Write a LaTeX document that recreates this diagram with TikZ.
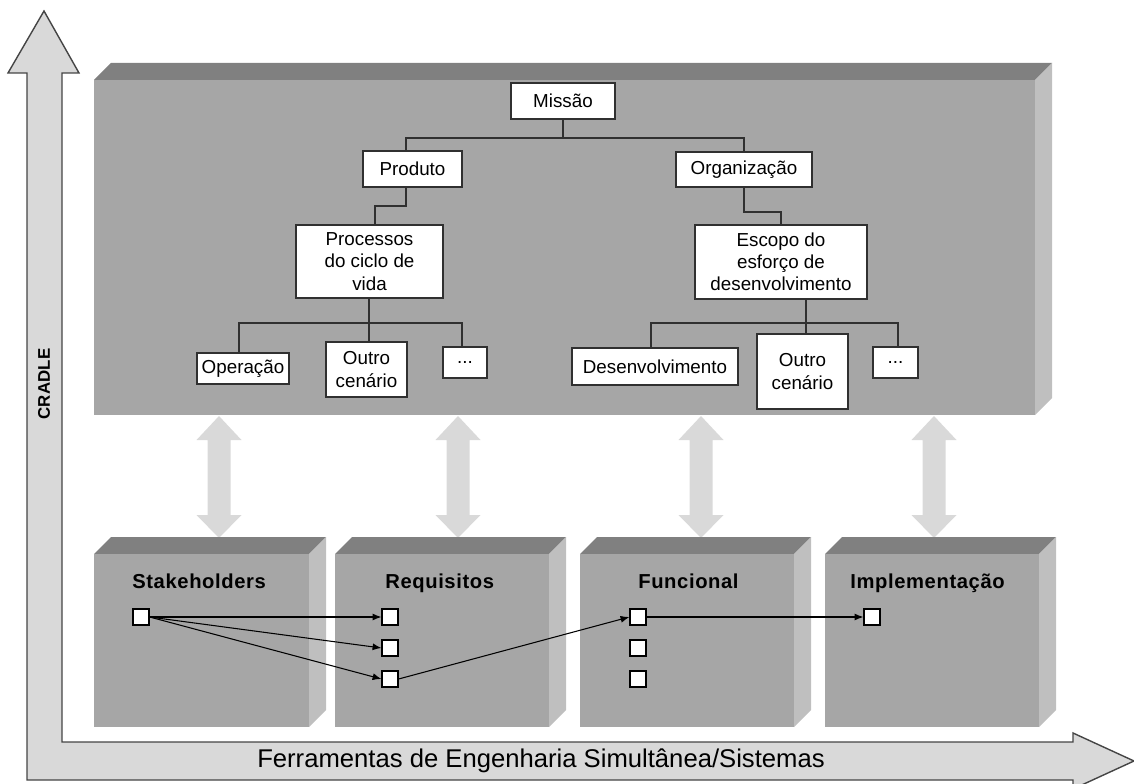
\documentclass[tikz,border=0pt]{standalone}
\usepackage{fontspec}
\setmainfont{Liberation Sans}
\usetikzlibrary{arrows.meta,calc}
\definecolor{frontc}{HTML}{A6A6A6}
\definecolor{topc}{HTML}{808080}
\definecolor{sidec}{HTML}{BFBFBF}
\definecolor{axisc}{HTML}{D9D9D9}
\definecolor{linec}{HTML}{303030}
\def\u{0.02cm}
\newcommand{\cubebox}[4]{% x0 y0 x1 y1 (front face), depth 17
  \fill[topc] (#1,#2) -- (#1+17,#2-17) -- (#3+17,#2-17) -- (#3,#2) -- cycle;
  \fill[sidec] (#3,#2) -- (#3+17,#2-17) -- (#3+17,#4-17) -- (#3,#4) -- cycle;
  \fill[frontc] (#1,#2) rectangle (#3,#4);
}
\newcommand{\dblarrow}[1]{%
  \fill[axisc] (#1,416) -- (#1+22.5,440) -- (#1+11.5,440) -- (#1+11.5,515) -- (#1+22.5,515)
    -- (#1,538) -- (#1-22.5,515) -- (#1-11.5,515) -- (#1-11.5,440) -- (#1-22.5,440) -- cycle;
}
\tikzset{
  treebox/.style={draw=linec, line width=0.7pt, fill=white, inner sep=0pt, align=center,
    font=\fontsize{10.7}{12.6}\selectfont},
  treeline/.style={draw=linec, line width=0.7pt},
  sq/.style={draw=black, line width=0.7pt, fill=white, minimum size=16*\u, inner sep=0pt},
  conn/.style={draw=black, line width=0.6pt, -{Latex[length=5pt,width=4pt]}},
  collabel/.style={anchor=base west, inner sep=0pt, font=\fontsize{11.5}{13}\selectfont\bfseries\addfontfeatures{LetterSpace=3}},
}
\begin{document}
\begin{tikzpicture}[x=\u, y=-\u]
\useasboundingbox (0,0) rectangle (1134,784);
\clip (0,0) rectangle (1134,784);

% axes (L-shaped double arrow)
\filldraw[fill=axisc, draw=linec!90, line width=0.8pt, line join=miter]
  (44,11) -- (79,73) -- (62,73) -- (62,742) -- (1073,742) -- (1073,733) -- (1134,761)
  -- (1073,789) -- (1073,780) -- (27,780) -- (27,73) -- (8,73) -- cycle;
\node[rotate=90, font=\fontsize{9.6}{11}\selectfont\bfseries\addfontfeatures{LetterSpace=1}] (cradle) at (44,384) {CRADLE};
\node[font=\fontsize{14.6}{17}\selectfont] (tools) at (541,761) {Ferramentas de Engenharia Simultânea/Sistemas};

% big box
\cubebox{94}{80}{1035}{415}

% double arrows
\dblarrow{219}
\dblarrow{458}
\dblarrow{701}
\dblarrow{934}

% bottom boxes
\cubebox{94}{554}{309}{727}
\cubebox{335}{554}{549}{727}
\cubebox{580}{554}{794}{727}
\cubebox{825}{554}{1039}{727}

% tree nodes
\node[treebox, minimum width=104*\u, minimum height=36*\u] (missao) at (563,101) {Missão};
\node[treebox, minimum width=99*\u, minimum height=36*\u] (produto) at (412.5,169) {Produto};
\node[treebox, minimum width=136*\u, minimum height=35*\u] (org) at (744,169.5) {Organização};
\node[treebox, minimum width=147*\u, minimum height=73*\u] (proc) at (369.5,261.5) {Processos\\do ciclo de\\vida};
\node[treebox, minimum width=172*\u, minimum height=74*\u] (escopo) at (781,262) {Escopo do\\esforço de\\desenvolvimento};
\node[treebox, minimum width=92*\u, minimum height=31*\u] (oper) at (243,368.5) {Operação};
\node[treebox, minimum width=81*\u, minimum height=55*\u] (outroA) at (366.5,369.5) {Outro\\cenário};
\node[treebox, minimum width=44*\u, minimum height=31*\u] (dotsA) at (465,362.5) {...};
\node[treebox, minimum width=166*\u, minimum height=37*\u] (desenv) at (655,366.5) {Desenvolvimento};
\node[treebox, minimum width=91*\u, minimum height=75*\u] (outroB) at (802.5,371.5) {Outro\\cenário};
\node[treebox, minimum width=45*\u, minimum height=31*\u] (dotsB) at (895.5,362.5) {...};

% tree connectors
\coordinate (mj) at (563,138);
\draw[treeline] (missao.south) -- (mj);
\draw[treeline] (406,151) |- (mj) -| (744,152);
\draw[treeline] (406,187) |- (375,206) -- (375,225);
\draw[treeline] (744,187) |- (781,212) -- (escopo.north);
\draw[treeline] (369,298) -- (369,342);
\draw[treeline] (239,353) |- (462,323) -- (462,347);
\draw[treeline] (806,299) -- (806,334);
\draw[treeline] (651,348) |- (898,323) -- (898,347);

% column labels
\node[collabel] (lstake) at (132,588) {Stakeholders};
\node[collabel] (lreq) at (385,588) {Requisitos};
\node[collabel] (lfunc) at (638,588) {Funcional};
\node[collabel] (limpl) at (850,588) {Implementação};

% squares
\node[sq] (s1) at (141,617) {};
\node[sq] (r1) at (390,617) {};
\node[sq] (r2) at (390,648) {};
\node[sq] (r3) at (390,679) {};
\node[sq] (f1) at (638,617) {};
\node[sq] (f2) at (638,648) {};
\node[sq] (f3) at (638,679) {};
\node[sq] (i1) at (872,617) {};

\draw[conn] (s1.east) -- (r1.west);
\draw[conn] (s1.east) -- (r2.west);
\draw[conn] (s1.east) -- (r3.west);
\draw[conn] (r3.east) -- (f1.west);
\draw[conn] (f1.east) -- (i1.west);
\end{tikzpicture}
\end{document}
